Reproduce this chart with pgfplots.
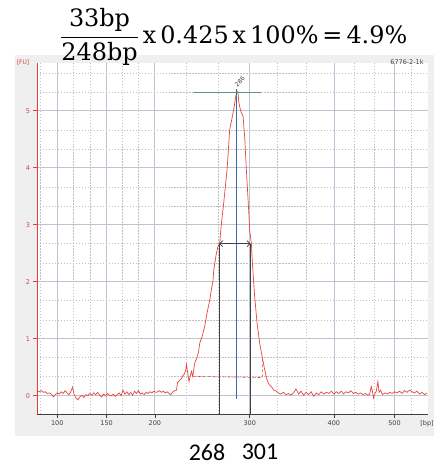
\documentclass[border=0pt]{standalone}
\usepackage{pgfplots}
\pgfplotsset{compat=1.18}
\usepackage{fontspec}
\setmainfont{DejaVu Sans}
\newfontfamily\eqfont{DejaVu Serif}
\newfontfamily\calfont{Carlito}
\usetikzlibrary{arrows.meta}

\definecolor{trace}{HTML}{E8453C}
\definecolor{fured}{HTML}{E0403A}
\definecolor{majgrid}{HTML}{BAC4D4}
\definecolor{mingrid}{HTML}{C0C0C0}
\definecolor{panel}{HTML}{EFEFEF}
\definecolor{peakblue}{HTML}{3B6DB3}
\definecolor{peakgreen}{HTML}{5E9479}
\definecolor{darkline}{HTML}{404040}

% ladder-calibrated size axis: bp -> display position, piecewise linear
\pgfplotsset{
  bp axis/.style={
    x coord trafo/.code={\pgfmathparse{ifthenelse(##1<150, 57.3+(##1-100)*0.988,
      ifthenelse(##1<200, 106.7+(##1-150)*0.966,
      ifthenelse(##1<300, 155+(##1-200)*0.95,
      ifthenelse(##1<400, 250+(##1-300)*0.843,
      ifthenelse(##1<500, 334.3+(##1-400)*0.607, 395+(##1-500)*0.25)))))}},
  },
}

\pgfplotstableread{
bp fu
80 0.08
82 0.07
84 0.09
86 0.06
88 0.07
90 0.04
92 0.05
94 0.03
96 -0.02
98 0.02
100 0.05
102 0.03
104 0.07
106 0.04
108 0.09
110 0.05
112 0.02
114 0.08
115.5 0.15
117 0.03
119 -0.04
121 -0.07
123 -0.02
125 0.01
127 -0.03
129 0.02
131 0.00
133 0.04
135 0.01
137 0.05
139 0.02
141 0.06
143 0.01
145 -0.02
147 0.03
149 0.00
151 0.04
153 0.01
155 0.00
157 0.03
159 -0.01
161 0.02
163 0.05
165 0.00
167 0.10
169 0.03
171 0.07
173 0.02
175 0.06
177 0.01
179 0.08
181 0.04
183 0.09
185 0.03
187 0.05
189 0.02
191 0.06
193 0.04
195 0.07
197 0.05
199 0.08
201 0.06
203 0.07
205 0.09
207 0.06
209 0.08
211 0.05
213 0.07
215 0.04
217 0.02
219 0.07
221 0.09
222.8 0.10
224 0.23
226 0.27
228 0.30
229.5 0.35
231 0.38
232.5 0.45
233.4 0.55
234.5 0.42
236 0.25
237.5 0.36
238.6 0.43
240 0.34
242 0.57
244 0.65
246 0.76
247.4 0.93
250 1.05
252.6 1.22
255 1.45
257.9 1.68
259.8 1.88
261.4 2.03
262.1 2.21
264.9 2.50
266.6 2.62
268.4 2.68
270 3.00
272.6 3.38
274.5 3.70
276.1 3.96
278.9 4.67
280.5 4.80
282.4 4.96
284.2 5.13
285.3 5.25
286.6 5.35
287.7 5.30
288.7 5.13
290.5 5.00
293 4.90
294.7 4.55
296.5 3.96
298.9 3.26
300 2.90
302 2.67
303.2 2.33
305.9 1.74
308.7 1.28
311.9 0.92
315.1 0.66
317.8 0.46
320.5 0.28
323 0.20
325.7 0.16
328.5 0.10
331.7 0.08
334 0.05
337 0.03
340 0.06
343 0.02
346 0.04
349 0.01
352 0.05
355 0.12
358 0.03
361 0.08
364 0.01
367 0.06
370 0.02
373 0.07
376 -0.01
379 0.05
382 0.02
385 0.07
388 0.03
391 0.06
394 0.04
397 0.08
400 0.03
404 0.07
408 0.04
412 0.08
416 0.03
420 0.07
424 0.05
428 0.09
432 0.04
436 0.06
440 0.03
444 0.05
448 0.02
452 0.04
456 0.01
459 0.03
461.6 0.16
463.5 0.08
465.5 -0.04
468 0.05
470 0.08
472.5 0.25
474.5 0.06
477 0.10
480 0.02
484 0.05
488 0.03
492 0.06
496 0.04
500 0.07
510 0.05
520 0.08
530 0.04
540 0.09
550 0.06
560 0.10
570 0.07
580 0.05
590 0.08
600 0.03
610 0.06
620 0.02
630 0.05
}\electro

\begin{document}
\begin{tikzpicture}
\useasboundingbox (0bp,0bp) rectangle (440bp,465bp);
\fill[panel] (15bp,29bp) rectangle (434bp,410bp);

\begin{axis}[
  bp axis,
  at={(37bp,51bp)}, anchor=south west,
  scale only axis, width=391bp, height=351bp,
  xmin=79.5, xmax=634, ymin=-0.32, ymax=5.84,
  axis lines=left, axis line style={-},
  x axis line style={darkline, line width=0.8pt},
  y axis line style={fured, line width=0.8pt},
  xtick={100,150,200,300,400,500},
  xticklabels={100,150,200,300,400,500},
  minor xtick={83.33,116.67,133.33,166.67,183.33,233.33,266.67,333.33,366.67,433.33,466.67,566.67},
  ytick={0,1,2,3,4,5},
  minor ytick={0.333,0.667,1.333,1.667,2.333,2.667,3.333,3.667,4.333,4.667,5.333,5.667},
  grid=both,
  major grid style={majgrid, line width=0.8pt},
  minor grid style={mingrid, dash pattern=on 1.5pt off 1.5pt, line width=0.6pt},
  tick align=outside,
  major tick length=3.5bp, minor tick length=0pt,
  x tick style={darkline, line width=0.6pt},
  y tick style={fured, line width=0.8pt},
  tick label style={font=\fontsize{6.5}{7}\selectfont},
  yticklabel style={fured},
  xticklabel style={darkline},
  /pgf/number format/assume math mode=true,
  axis background/.style={fill=white},
]
\addplot[trace, line width=0.7pt] table[x=bp, y=fu] {\electro};
% baseline of the integrated region
\addplot[trace, densely dashed, line width=0.6pt] coordinates {(240,0.34) (315,0.32) (315,0.67)};
% peak height marker and peak position
\addplot[peakgreen, line width=1pt] coordinates {(241,5.32) (314,5.32)};
\addplot[peakblue, line width=1pt] coordinates {(286,-0.05) (286,5.38)};
% width at half maximum
\addplot[darkline, line width=0.8pt] coordinates {(268,-0.32) (268,2.67)};
\addplot[darkline, line width=0.8pt] coordinates {(301,-0.32) (301,2.67)};
\addplot[darkline, line width=0.7pt, {Straight Barb[length=3pt]}-{Straight Barb[length=3pt]}] coordinates {(268,2.67) (301,2.67)};
\node[rotate=45, anchor=south west, inner sep=0.5pt, font=\fontsize{6}{6}\selectfont, text=darkline] at (axis cs:287,5.40) {286};
\end{axis}

\node[fured, font=\fontsize{6}{7}\selectfont] at (23bp,402bp) {[FU]};
\node[darkline, font=\fontsize{6.5}{7}\selectfont] at (427bp,41bp) {[bp]};
\node[darkline, font=\fontsize{6.5}{7}\selectfont] at (407bp,403bp) {6776-2-1k};

\node[anchor=west, font=\eqfont\fontsize{24}{28}\selectfont, inner sep=0pt] at (60bp,428bp)
  {$\displaystyle\frac{\mbox{33bp}}{\mbox{248bp}}$\,x\,0.425\,x\,100\%\,=\,4.9\%};

\node[font=\calfont\fontsize{24}{26}\selectfont] at (207bp,13bp) {268};
\node[font=\calfont\fontsize{24}{26}\selectfont] at (260bp,13bp) {301};
\end{tikzpicture}
\end{document}
